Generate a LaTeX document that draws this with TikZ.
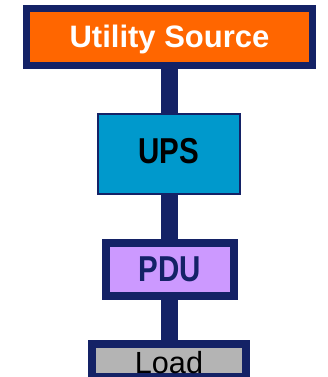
\documentclass[tikz,border=0pt]{standalone}
\usepackage{fontspec}
\usepackage{graphicx}
\setmainfont{Liberation Sans}
\definecolor{navy}{RGB}{20,34,102}
\definecolor{orangefill}{RGB}{255,102,0}
\definecolor{upsfill}{RGB}{0,153,204}
\definecolor{pdufill}{RGB}{204,153,255}
\definecolor{loadfill}{RGB}{180,180,180}
\begin{document}
\begin{tikzpicture}[x=1pt,y=-1pt,
  box/.style={draw=navy,rectangle,inner sep=0pt,outer sep=0pt,text depth=0pt},
  wire/.style={draw=navy,line width=17pt}]
\useasboundingbox (0,0) rectangle (327,377);
\clip (0,0) rectangle (327,377);
\coordinate (wtop) at (169.5,40);
\coordinate (wbot) at (169.5,360);
\draw[wire] (wtop) -- (wbot);
\node[box,fill=orangefill,line width=7pt,minimum width=286pt,minimum height=57pt,
  text=white,font=\fontsize{31}{31}\selectfont\bfseries,text height=22pt]
  (util) at (169.5,37) {Utility Source};
\node[box,fill=upsfill,line width=2pt,minimum width=142pt,minimum height=80pt,
  text=black,font=\fontsize{36}{36}\selectfont\bfseries,text height=18pt]
  (ups) at (169,154) {\scalebox{0.82}[1]{UPS}};
\node[box,fill=pdufill,line width=8pt,minimum width=128pt,minimum height=53pt,
  text=navy,font=\fontsize{36}{36}\selectfont\bfseries,text height=23pt]
  (pdu) at (170,269.5) {\scalebox{0.82}[1]{PDU}};
\node[box,fill=loadfill,line width=8pt,minimum width=154pt,minimum height=33pt,
  text=black,font=\fontsize{30.6}{30.6}\selectfont,text height=25pt]
  (load) at (169,360.5) {Load};
\end{tikzpicture}
\end{document}
